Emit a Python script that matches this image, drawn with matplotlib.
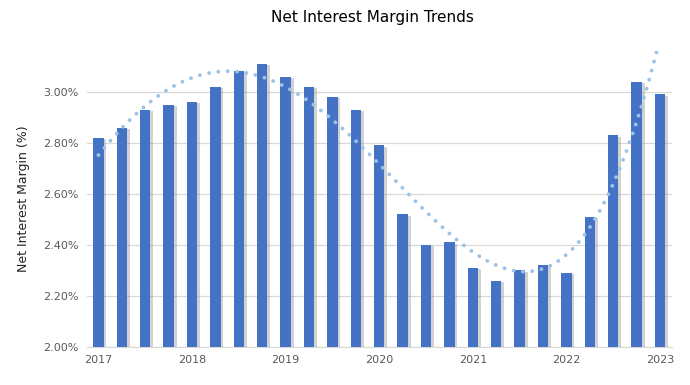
import numpy as np
import matplotlib.pyplot as plt
import matplotlib.patheffects as pe

# quarterly net interest margin, 2017 Q1 .. 2023 Q1
nim = [2.82, 2.86, 2.93, 2.95, 2.96, 3.02, 3.08, 3.11, 3.06, 3.02, 2.98, 2.93,
       2.79, 2.52, 2.40, 2.41, 2.31, 2.26, 2.30, 2.32, 2.29, 2.51, 2.83, 3.04, 2.99]
years = ["2017", "2018", "2019", "2020", "2021", "2022", "2023"]
yticks = [2.0, 2.2, 2.4, 2.6, 2.8, 3.0]

x = np.arange(len(nim))

fig = plt.figure(figsize=(6.9, 3.85), dpi=100)
ax = fig.add_axes([0.1257, 0.0987, 0.8478, 0.7688])

bars = ax.bar(x, nim, width=0.45, color="#4472C4", zorder=3)
for b in bars:
    b.set_path_effects([pe.SimplePatchShadow(offset=(2, -1), shadow_rgbFace="#808080", alpha=0.35),
                        pe.Normal()])

# polynomial trendline like Excel's
coef = np.polyfit(x, nim, 4)
xs = np.linspace(0, len(nim) - 1, 200)
ax.plot(xs, np.polyval(coef, xs), color="#9DC3E6", lw=2.8,
        linestyle=(0, (0.01, 2.4)), dash_capstyle="round", zorder=4)

ax.set_xlim(-0.5, len(nim) - 0.5)
ax.set_ylim(2.0, 3.16)
ax.set_yticks(yticks)
ax.set_yticklabels([f"{v:.2f}%" for v in yticks])
ax.set_xticks(np.arange(0, len(nim), 4))
ax.set_xticklabels(years)
ax.tick_params(length=0, labelsize=8, labelcolor="#595959", pad=6)
ax.grid(axis="y", color="#D9D9D9", lw=0.9, zorder=0)
for s in ["top", "right", "left"]:
    ax.spines[s].set_visible(False)
ax.spines["bottom"].set_color("#D9D9D9")

ax.set_ylabel("Net Interest Margin (%)", fontsize=9, color="#222222", labelpad=9)
fig.suptitle("Net Interest Margin Trends", fontsize=11, x=0.54, y=0.975)

plt.savefig("out.png")
